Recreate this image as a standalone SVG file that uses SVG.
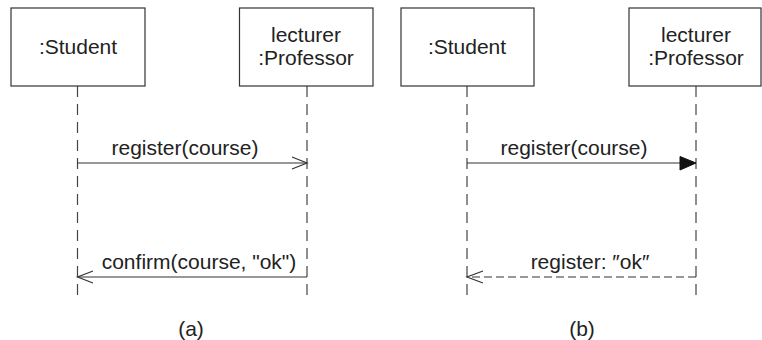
<svg xmlns="http://www.w3.org/2000/svg" width="762" height="340" viewBox="0 0 762 340">
<style>
text{font-family:"Liberation Sans",Arial,sans-serif;font-size:21px;fill:#222;text-anchor:middle}
.box{fill:#fff;stroke:#333;stroke-width:1.2}
.life{stroke:#444;stroke-width:1.2;stroke-dasharray:11 7;fill:none}
.msg{stroke:#333;stroke-width:1.2;fill:none}
.ret{stroke:#333;stroke-width:1.2;fill:none;stroke-dasharray:8 4}
</style>
<rect width="762" height="340" fill="#fff"/>
<g id="connectors">
<line class="life" x1="77.5" y1="86" x2="77.5" y2="302"/>
<line class="life" x1="307" y1="86" x2="307" y2="302"/>
<line class="life" x1="467" y1="86" x2="467" y2="302"/>
<line class="life" x1="696" y1="86" x2="696" y2="302"/>
<line class="msg" x1="77.5" y1="163" x2="307" y2="163"/>
<polyline class="msg" points="292,157 307,163 292,169"/>
<line class="msg" x1="77.5" y1="277" x2="307" y2="277"/>
<polyline class="msg" points="93,271 77.5,277 93,283"/>
<line class="msg" x1="467" y1="163" x2="681" y2="163"/>
<polygon points="680,156.5 696,163 680,170" fill="#111" stroke="#111" stroke-width="1"/>
<line class="ret" x1="696" y1="277" x2="467" y2="277"/>
<polyline class="msg" points="483,271 467,277 483,283"/>
</g>
<g id="student-a"><rect class="box" x="11" y="8" width="134" height="78"/><text x="78" y="54">:Student</text></g>
<g id="professor-a"><rect class="box" x="239.5" y="8" width="133.5" height="78"/><text x="306" y="41.5">lecturer</text><text x="306" y="64.5">:Professor</text></g>
<g id="student-b"><rect class="box" x="401" y="8" width="133" height="78"/><text x="467" y="54">:Student</text></g>
<g id="professor-b"><rect class="box" x="629" y="8" width="132" height="78"/><text x="696" y="41.5">lecturer</text><text x="696" y="64.5">:Professor</text></g>
<g id="labels">
<text x="185" y="155">register(course)</text>
<text x="199" y="269">confirm(course, "ok")</text>
<text x="574" y="155">register(course)</text>
<text x="590" y="269">register: ″ok″</text>
<text x="191" y="336">(a)</text>
<text x="582" y="336">(b)</text>
</g>
</svg>
